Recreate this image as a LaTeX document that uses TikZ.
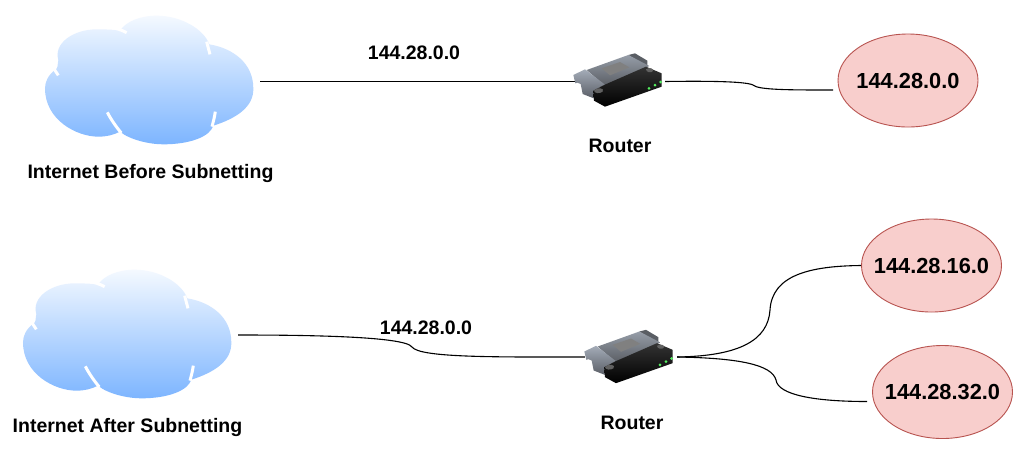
\documentclass[tikz,border=0pt]{standalone}
\usepackage{fontspec}
\setmainfont{Liberation Sans}
\usetikzlibrary{shapes.geometric}
\definecolor{ellfill}{HTML}{F8CECC}
\definecolor{elldraw}{HTML}{B85450}
\definecolor{cloudtop}{HTML}{F4F9FF}
\definecolor{cloudbot}{HTML}{7DB5FF}
\definecolor{tabtop}{HTML}{A4ACB8}
\definecolor{tabbot}{HTML}{5A5E66}
\definecolor{bodytop}{HTML}{969DA8}
\definecolor{bodybot}{HTML}{5A5E64}
\definecolor{ledgreen}{HTML}{55F060}
\tikzset{
  wire/.style={draw=black,line width=1.1pt},
  lbl/.style={font=\fontsize{19.5pt}{22pt}\selectfont\bfseries,text=black,inner sep=0pt},
  elab/.style={ellipse,draw=elldraw,fill=ellfill,line width=0.9pt,minimum width=140pt,minimum height=93pt,inner sep=0pt,font=\fontsize{21.8pt}{24pt}\selectfont\bfseries},
  anchorbox/.style={minimum width=#1,minimum height=50pt,inner sep=0pt},
  notch/.style={draw=white,line width=3pt}
}
\newcommand{\elltext}[1]{\makebox[0pt][c]{#1}}
\newcommand{\cloudart}[2]{%
\begin{scope}[shift={(#1,#2)},x=0.3333pt,y=-0.3333pt]
  \shade[top color=cloudtop,bottom color=cloudbot]
    (580,377) .. controls (650,355) and (702,320) .. (700,265)
    .. controls (700,190) and (640,145) .. (568,133)
    .. controls (550,85) and (480,47) .. (410,47)
    .. controls (360,47) and (320,65) .. (303,88)
    .. controls (290,92) and (260,87) .. (230,88)
    .. controls (160,88) and (100,130) .. (115,180)
    .. controls (112,195) and (115,205) .. (105,210)
    .. controls (85,225) and (75,245) .. (75,265)
    .. controls (75,360) and (170,410) .. (235,410)
    .. controls (260,410) and (280,405) .. (300,395)
    .. controls (330,420) and (390,433) .. (430,433)
    .. controls (510,433) and (570,410) .. (580,377) -- cycle;
  \draw[notch] (560,125) -- (570,163);
  \draw[notch] (270,82) .. controls (290,85) and (305,90) .. (320,98);
  \draw[notch] (103,208) -- (115,226);
  \draw[notch] (262,337) .. controls (275,362) and (290,382) .. (304,399);
  \draw[notch] (586,335) .. controls (584,350) and (580,365) .. (576,380);
\end{scope}}
\newcommand{\routerart}[2]{%
\begin{scope}[shift={(#1,#2)},x=0.3333pt,y=-0.3333pt]
  \fill[bodybot] (205,15) -- (225,10) -- (262,32) -- (262,50) -- cycle;
  \shade[top color=bodytop,bottom color=bodybot] (80,60) -- (205,15) -- (268,48) -- (135,108) -- cycle;
  \fill[black!50] (125,55) -- (180,36) -- (208,52) -- (150,76) -- cycle;
  \shade[top color=tabtop,bottom color=tabbot] (40,75) -- (75,58) -- (135,104) -- (108,118) -- (104,146) -- (68,132) -- (62,102) -- (52,98) -- (46,100) -- cycle;
  \shade[top color=black!80,bottom color=black] (100,122) -- (130,106) -- (258,50) -- (305,70) -- (305,110) -- (135,170) -- (102,152) -- cycle;
  \fill[black!62] (258,58) .. controls (268,50) and (284,56) .. (278,64) .. controls (272,70) and (258,66) .. (258,58) -- cycle;
  \fill[black!62] (102,122) .. controls (110,110) and (136,114) .. (128,125) .. controls (120,132) and (102,130) .. (102,122) -- cycle;
  \fill[ledgreen] (267,115) circle (4.5);
  \fill[ledgreen] (285,105) circle (4.5);
  \fill[ledgreen] (302,96) circle (4.5);
\end{scope}}
\begin{document}
\begin{tikzpicture}[x=1pt,y=-1pt]
\useasboundingbox[fill=white] (0,0) rectangle (1024,451);
% anchors
\node[anchorbox=222pt] (c1) at (149,81.5) {};
\node[anchorbox=222pt] (c2) at (127,335) {};
\node[anchorbox=88pt] (r1) at (621,81.5) {};
\node[anchorbox=92pt] (r2) at (631,357) {};
\node[elab] (e1) at (908,80.5) {\elltext{144.28.0.0}};
\node[elab] (e2) at (931.5,265.5) {\elltext{144.28.16.0}};
\node[elab] (e3) at (942.5,392) {\elltext{144.28.32.0}};
\coordinate (e1end) at (833,90);
\coordinate (e3end) at (867,401.5);
\coordinate (w1) at (753,85);
\coordinate (w2) at (412,347);
% connectors
\draw[wire] (c1.east) -- (r1.west);
\draw[wire] (r1.east) .. controls (700,81) and (745,81) .. (w1) .. controls (758,90) and (790,90) .. (e1end);
\draw[wire] (c2.east) .. controls (300,335) and (405,336) .. (w2) .. controls (420,358) and (500,357) .. (r2.west);
\draw[wire] (r2.east) .. controls (740,356) and (768,340) .. (770,310) .. controls (772,275) and (810,266) .. (e2.west);
\draw[wire] (r2.east) .. controls (740,358) and (772,365) .. (776,380) .. controls (778,395) and (815,401.5) .. (e3end);
% artwork
\cloudart{20}{0}
\cloudart{-2}{254}
\routerart{560}{50}
\routerart{571}{326.5}
% labels
\node[lbl] (t1) at (414,53) {144.28.0.0};
\node[lbl] (t2) at (426,328) {144.28.0.0};
\node[lbl] (t3) at (620,146) {Router};
\node[lbl] (t4) at (632,423) {Router};
\node[lbl] (t5) at (150.5,173) {Internet Before Subnetting};
\node[lbl] (t6) at (127.5,427) {Internet After Subnetting};
\end{tikzpicture}
\end{document}
